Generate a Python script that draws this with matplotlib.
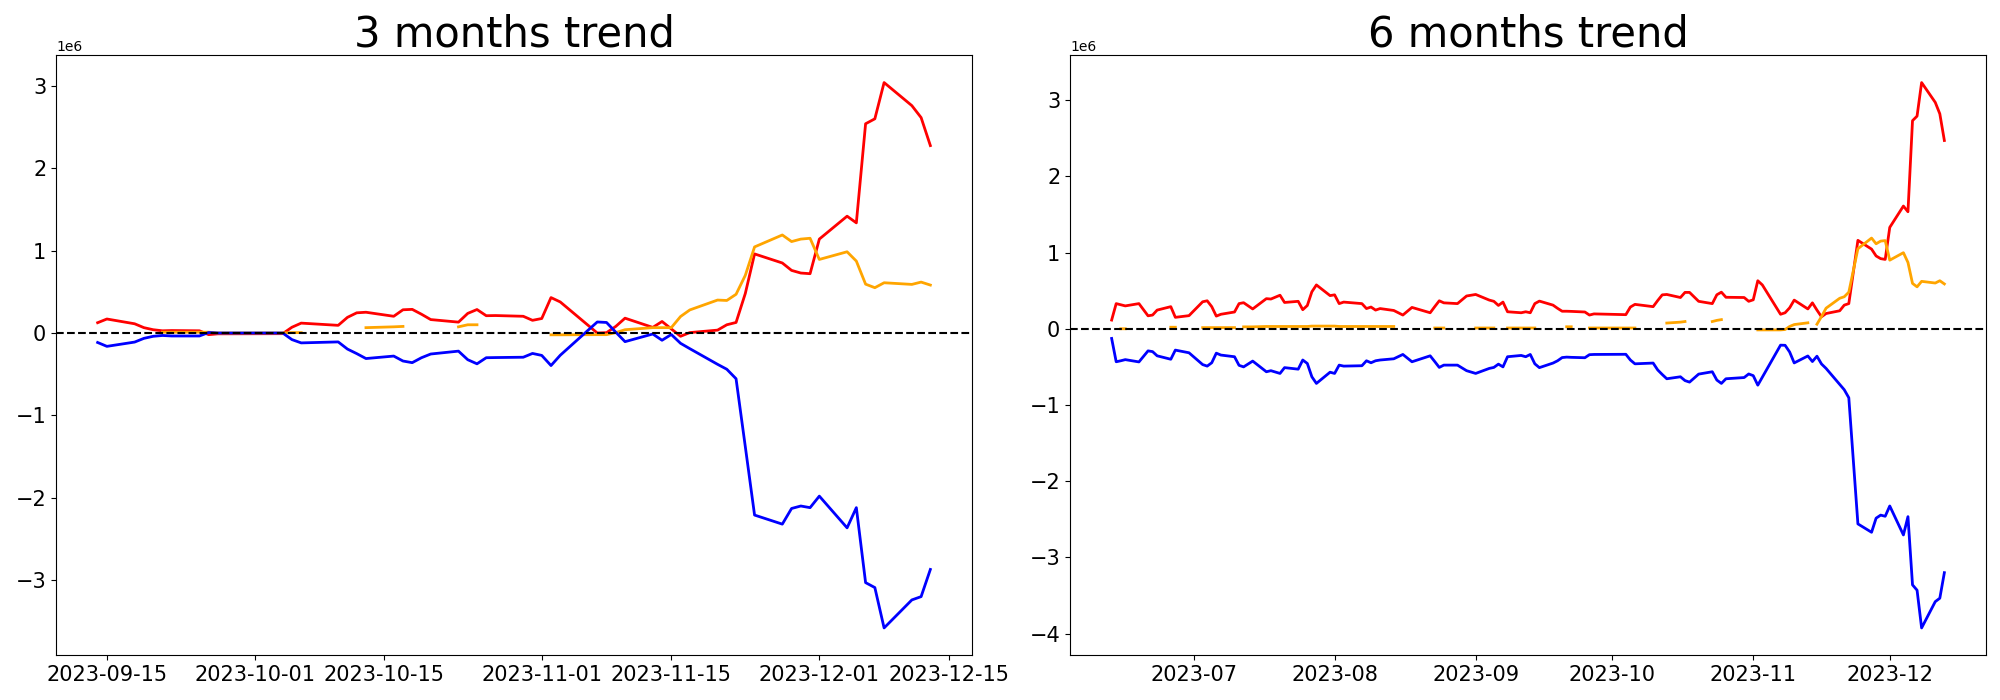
import matplotlib
matplotlib.use("Agg")
import matplotlib.pyplot as plt
import numpy as np
import pandas as pd

nan = np.nan

# ---- 3 months window (values in units of 1e6) ----
dates_3m = ["2023-09-14", "2023-09-15", "2023-09-18", "2023-09-19", "2023-09-20",
            "2023-09-21", "2023-09-22", "2023-09-25", "2023-09-26", "2023-09-27",
            "2023-10-04", "2023-10-05", "2023-10-06", "2023-10-10", "2023-10-11",
            "2023-10-12", "2023-10-13", "2023-10-16", "2023-10-17", "2023-10-18",
            "2023-10-19", "2023-10-20", "2023-10-23", "2023-10-24", "2023-10-25",
            "2023-10-26", "2023-10-27", "2023-10-30", "2023-10-31", "2023-11-01",
            "2023-11-02", "2023-11-03", "2023-11-07", "2023-11-08", "2023-11-09",
            "2023-11-10", "2023-11-13", "2023-11-14", "2023-11-15", "2023-11-16",
            "2023-11-17", "2023-11-20", "2023-11-21", "2023-11-22", "2023-11-23",
            "2023-11-24", "2023-11-27", "2023-11-28", "2023-11-29", "2023-11-30",
            "2023-12-01", "2023-12-04", "2023-12-05", "2023-12-06", "2023-12-07",
            "2023-12-08", "2023-12-11", "2023-12-12", "2023-12-13"]
red_3m = [0.125, 0.17, 0.112, 0.065, 0.04,
          0.027, 0.03, 0.027, -0.02, -0.01,
          -0.008, 0.07, 0.12, 0.093, 0.19,
          0.245, 0.252, 0.203, 0.282, 0.287,
          0.228, 0.163, 0.132, 0.238, 0.285,
          0.21, 0.212, 0.203, 0.154, 0.176,
          0.43, 0.377, 0.0, 0.004, 0.08,
          0.18, 0.068, 0.14, 0.05, -0.04,
          0.005, 0.035, 0.1, 0.128, 0.48,
          0.96, 0.85, 0.76, 0.728, 0.72,
          1.14, 1.418, 1.337, 2.54, 2.6,
          3.04, 2.76, 2.615, 2.275]
blue_3m = [-0.115, -0.162, -0.11, -0.065, -0.04,
           -0.03, -0.036, -0.036, 0.006, 0.0,
           0.0, -0.08, -0.12, -0.108, -0.195,
           -0.25, -0.31, -0.28, -0.34, -0.36,
           -0.3, -0.255, -0.22, -0.324, -0.374,
           -0.3, -0.298, -0.294, -0.248, -0.272,
           -0.395, -0.27, 0.134, 0.128, 0.01,
           -0.105, -0.012, -0.088, -0.018, -0.125,
           -0.19, -0.38, -0.44, -0.555, -1.38,
           -2.21, -2.32, -2.13, -2.1, -2.12,
           -1.98, -2.365, -2.12, -3.03, -3.09,
           -3.58, -3.24, -3.2, -2.87]
orange_3m = [nan, nan, nan, nan, nan,
             0.01, 0.01, 0.01, 0.01, 0.0,
             0.0, 0.005, 0.005, nan, nan,
             nan, 0.065, 0.075, 0.08, nan,
             nan, nan, 0.075, 0.1, 0.1,
             nan, nan, nan, nan, nan,
             -0.022, -0.022, -0.02, -0.02, 0.005,
             0.04, 0.065, 0.065, 0.065, 0.2,
             0.28, 0.4, 0.395, 0.47, 0.7,
             1.045, 1.19, 1.11, 1.14, 1.15,
             0.893, 0.986, 0.873, 0.593, 0.55,
             0.61, 0.59, 0.618, 0.582]

# ---- 6 months window (values in units of 1e6) ----
dates_6m = ["2023-06-13", "2023-06-14", "2023-06-15", "2023-06-16", "2023-06-19",
            "2023-06-21", "2023-06-22", "2023-06-23", "2023-06-26", "2023-06-27",
            "2023-06-30", "2023-07-03", "2023-07-04", "2023-07-05", "2023-07-06",
            "2023-07-07", "2023-07-10", "2023-07-11", "2023-07-12", "2023-07-14",
            "2023-07-17", "2023-07-18", "2023-07-20", "2023-07-21", "2023-07-24",
            "2023-07-25", "2023-07-26", "2023-07-27", "2023-07-28", "2023-07-31",
            "2023-08-01", "2023-08-02", "2023-08-03", "2023-08-07", "2023-08-08",
            "2023-08-09", "2023-08-10", "2023-08-11", "2023-08-14", "2023-08-16",
            "2023-08-18", "2023-08-22", "2023-08-23", "2023-08-24", "2023-08-25",
            "2023-08-28", "2023-08-30", "2023-09-01", "2023-09-04", "2023-09-05",
            "2023-09-06", "2023-09-07", "2023-09-08", "2023-09-11", "2023-09-12",
            "2023-09-13", "2023-09-14", "2023-09-15", "2023-09-18", "2023-09-19",
            "2023-09-20", "2023-09-21", "2023-09-22", "2023-09-25", "2023-09-26",
            "2023-09-27", "2023-10-04", "2023-10-05", "2023-10-06", "2023-10-10",
            "2023-10-11", "2023-10-12", "2023-10-13", "2023-10-16", "2023-10-17",
            "2023-10-18", "2023-10-20", "2023-10-23", "2023-10-24", "2023-10-25",
            "2023-10-26", "2023-10-30", "2023-10-31", "2023-11-01", "2023-11-02",
            "2023-11-03", "2023-11-07", "2023-11-08", "2023-11-09", "2023-11-10",
            "2023-11-13", "2023-11-14", "2023-11-15", "2023-11-16", "2023-11-17",
            "2023-11-20", "2023-11-21", "2023-11-22", "2023-11-24", "2023-11-27",
            "2023-11-28", "2023-11-29", "2023-11-30", "2023-12-01", "2023-12-04",
            "2023-12-05", "2023-12-06", "2023-12-07", "2023-12-08", "2023-12-11",
            "2023-12-12", "2023-12-13"]
red_6m = [0.114, 0.33, 0.315, 0.30, 0.33,
          0.17, 0.18, 0.245, 0.29, 0.15,
          0.172, 0.354, 0.367, 0.29, 0.166,
          0.19, 0.22, 0.33, 0.342, 0.26,
          0.395, 0.39, 0.44, 0.345, 0.36,
          0.25, 0.305, 0.485, 0.575, 0.435,
          0.445, 0.33, 0.35, 0.33, 0.265,
          0.285, 0.245, 0.265, 0.24, 0.18,
          0.28, 0.21, 0.29, 0.367, 0.34,
          0.33, 0.43, 0.45, 0.376, 0.36,
          0.306, 0.35, 0.223, 0.21, 0.223,
          0.21, 0.33, 0.363, 0.31, 0.268,
          0.23, 0.23, 0.228, 0.22, 0.18,
          0.195, 0.185, 0.285, 0.32, 0.29,
          0.37, 0.445, 0.45, 0.41, 0.477,
          0.477, 0.36, 0.33, 0.446, 0.48,
          0.413, 0.41, 0.36, 0.38, 0.63,
          0.575, 0.19, 0.21, 0.275, 0.376,
          0.26, 0.34, 0.245, 0.157, 0.2,
          0.236, 0.31, 0.33, 1.16, 1.045,
          0.955, 0.92, 0.91, 1.33, 1.61,
          1.535, 2.73, 2.79, 3.23, 2.97,
          2.82, 2.47]
blue_6m = [-0.127, -0.433, -0.42, -0.405, -0.435,
           -0.29, -0.30, -0.355, -0.40, -0.28,
           -0.315, -0.47, -0.49, -0.446, -0.32,
           -0.345, -0.367, -0.48, -0.50, -0.424,
           -0.564, -0.55, -0.586, -0.51, -0.53,
           -0.41, -0.455, -0.63, -0.717, -0.57,
           -0.586, -0.477, -0.49, -0.485, -0.42,
           -0.446, -0.42, -0.41, -0.394, -0.337,
           -0.433, -0.355, -0.43, -0.507, -0.477,
           -0.477, -0.55, -0.586, -0.52, -0.507,
           -0.464, -0.50, -0.367, -0.35, -0.367,
           -0.337, -0.46, -0.51, -0.45, -0.42,
           -0.378, -0.372, -0.375, -0.38, -0.34,
           -0.337, -0.335, -0.41, -0.46, -0.45,
           -0.54, -0.6, -0.656, -0.63, -0.68,
           -0.7, -0.595, -0.564, -0.673, -0.717,
           -0.656, -0.64, -0.593, -0.615, -0.74,
           -0.635, -0.215, -0.217, -0.305, -0.448,
           -0.357, -0.43, -0.36, -0.462, -0.52,
           -0.73, -0.8, -0.905, -2.56, -2.67,
           -2.485, -2.445, -2.46, -2.325, -2.705,
           -2.465, -3.36, -3.43, -3.925, -3.58,
           -3.535, -3.2]
orange_6m = [nan, nan, 0.0, 0.0, nan,
             nan, nan, nan, 0.02, 0.02,
             nan, 0.015, 0.015, 0.015, 0.015,
             0.015, 0.015, nan, 0.025, 0.025,
             0.03, 0.03, 0.03, 0.03, 0.03,
             0.03, 0.03, 0.035, 0.035, 0.035,
             0.035, 0.03, 0.03, 0.03, 0.03,
             0.03, 0.03, 0.03, 0.03, nan,
             nan, nan, 0.01, 0.01, 0.01,
             nan, nan, 0.01, 0.01, 0.01,
             nan, nan, 0.01, 0.01, 0.01,
             0.01, 0.01, nan, nan, nan,
             nan, 0.026, 0.026, nan, 0.01,
             0.01, 0.01, 0.01, 0.01, nan,
             nan, nan, 0.075, 0.087, 0.095,
             nan, nan, 0.095, 0.11, 0.12,
             nan, nan, nan, nan, -0.015,
             -0.015, -0.015, -0.01, 0.03, 0.055,
             0.078, nan, 0.06, 0.16, 0.27,
             0.40, 0.42, 0.48, 1.05, 1.19,
             1.115, 1.15, 1.157, 0.90, 0.998,
             0.87, 0.595, 0.55, 0.622, 0.60,
             0.63, 0.588]

panels = [
    ("3 months trend", dates_3m, red_3m, orange_3m, blue_3m),
    ("6 months trend", dates_6m, red_6m, orange_6m, blue_6m),
]

fig, axes = plt.subplots(1, 2, figsize=(20, 7), dpi=100)
fig.subplots_adjust(left=0.028, right=0.993, bottom=0.064, top=0.921, wspace=0.107)

for ax, (title, dates, red, orange, blue) in zip(axes, panels):
    x = pd.to_datetime(dates)
    ax.plot(x, np.array(red) * 1e6, color="red", linewidth=2)
    ax.plot(x, np.array(orange) * 1e6, color="orange", linewidth=2)
    ax.plot(x, np.array(blue) * 1e6, color="blue", linewidth=2)
    ax.axhline(0, color="black", linestyle="--", linewidth=1.5)
    ax.set_title(title, fontsize=30)
    ax.tick_params(axis="both", labelsize=15)

fig.savefig("out.png", dpi=100)
